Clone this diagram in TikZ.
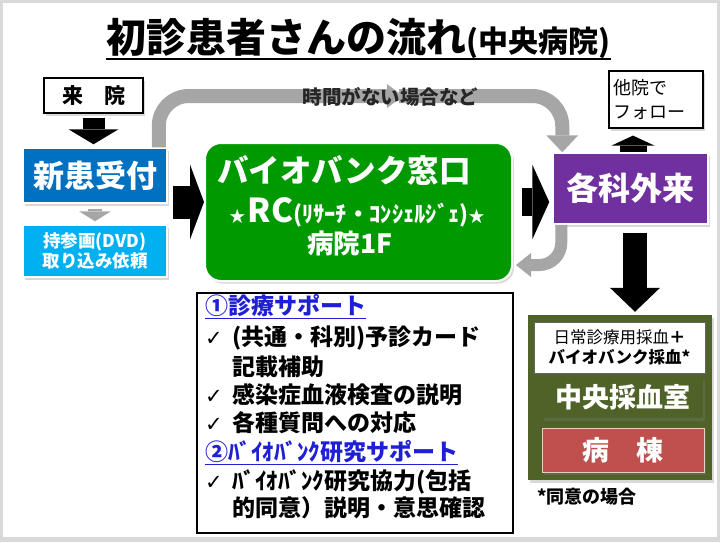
\documentclass[tikz,border=0pt]{standalone}
\usepackage{fontspec}
\setmainfont{Noto Sans CJK JP}
\newfontfamily\ckfont{DejaVu Sans}
\usepackage{xcolor}
\usetikzlibrary{arrows.meta,shadows}
\definecolor{framegray}{HTML}{D9D9D9}
\definecolor{arrowgray}{HTML}{A6A6A6}
\definecolor{shinkanblue}{HTML}{0070C0}
\definecolor{jisanblue}{HTML}{00B0F0}
\definecolor{bankgreen}{HTML}{009900}
\definecolor{gairaipurple}{HTML}{7030A0}
\definecolor{saiketsuolive}{HTML}{4F6228}
\definecolor{byotored}{HTML}{C0504D}
\definecolor{supportblue}{HTML}{1F1FD6}
\newcommand{\fsz}[1]{\fontsize{#1}{#1}\selectfont}
\newcommand{\chk}{\makebox[27pt][l]{\ckfont\mdseries\fsz{21}✓}}

\begin{document}
\begin{tikzpicture}[x=1pt,y=-1pt,
  lbl/.style={inner sep=0pt,align=center,font=\bfseries},
  shadowed/.style={drop shadow={opacity=0.3,shadow xshift=2pt,shadow yshift=-2.5pt}},
  frame/.style={lbl,draw=black,line width=1.2pt,fill=white},
  colorbox/.style={lbl,fill=#1,draw=white,line width=1.5pt,text=white,shadowed},
  blockarrow/.style={black,line width=#1},
  grayarrow/.style={arrowgray,line width=#1}]
\fill[framegray] (0,0) rectangle (720,542);
\fill[white] (3,3) rectangle (717,537);

\node[lbl,anchor=base] (title) at (358.5,52) {{\fsz{40}初診患者さんの流れ}{\fsz{30}(中央病院)}};
\draw[line width=1.5pt] ([yshift=-7pt]title.base west) -- ([yshift=-7pt]title.base east);

\node[frame,shadowed,minimum width=99pt,minimum height=35pt,font=\bfseries\fsz{21}] (raiin) at (93.5,95.5) {来　院};
\node[colorbox=shinkanblue,minimum width=144pt,minimum height=55pt,font=\bfseries\fsz{31}] (shinkan) at (95,175.5) {新患受付};
\node[colorbox=jisanblue,minimum width=144pt,minimum height=52pt,font=\bfseries\fontsize{17.5}{20}\selectfont] (jisan) at (95,251) {持参画(DVD)\\取り込み依頼};

\node[lbl,fill=bankgreen,draw=white,line width=2pt,rounded corners=16pt,shadowed,minimum width=307pt,minimum height=138pt] (madoguchi) at (358.5,212) {};
\node[lbl,text=white,font=\bfseries\fsz{31.5}] (bank) at (344,170.5) {バイオバンク窓口};
\node[lbl,text=white] (rc) at (357,212) {{\fsz{16}★} {\fsz{33}RC}{\fsz{22.5}(ﾘｻｰﾁ・ｺﾝｼｪﾙｼﾞｪ)}{\fsz{16}★}};
\node[lbl,text=white,font=\bfseries\fsz{26.5}] (floor) at (350,243) {病院1F};

\node[colorbox=gairaipurple,minimum width=155pt,minimum height=71pt,font=\bfseries\fsz{32}] (gairai) at (630.5,188.5) {各科外来};
\node[frame,shadowed,minimum width=94pt,minimum height=57pt,text width=86pt,align=left,font=\mdseries\fontsize{18}{24}\selectfont] (tain) at (656,99.5) {他院で\\フォロー};

\node[lbl,fill=saiketsuolive,shadowed,minimum width=184pt,minimum height=165pt] (olive) at (620,397.5) {};
\node[lbl,fill=white,draw=black!60,line width=0.8pt,minimum width=171pt,minimum height=51pt,font=\bfseries\fontsize{16.5}{20}\selectfont] (kind) at (619.5,347.5) {{\mdseries 日常診療用採血}＋\\バイオバンク採血*};
\node[lbl,fill=saiketsuolive,shadowed,minimum width=161pt,minimum height=41pt,text=white,font=\bfseries\fsz{27}] (chuo) at (622.5,397.5) {中央採血室};
\node[colorbox=byotored,draw=white!70!byotored,line width=1pt,minimum width=162pt,minimum height=44pt,font=\bfseries\fsz{27}] (byoto) at (623,450) {病　棟};
\node[lbl,anchor=west,font=\bfseries\fsz{18}] (doi) at (537,497) {*同意の場合};

\node[frame,minimum width=316pt,minimum height=240pt] (support) at (355,413) {};
\begin{scope}[every node/.style={lbl,anchor=west,font=\bfseries\fsz{23}}]
\node[text=supportblue] (sup1) at (205,307) {\underline{①診療サポート}};
\node (sup2) at (205,338) {\chk{}(共通・科別)予診カード};
\node (sup3) at (232,367) {記載補助};
\node (sup4) at (205,395) {\chk{}感染症血液検査の説明};
\node (sup5) at (205,423) {\chk{}各種質問への対応};
\node[text=supportblue] (sup6) at (205,453) {\underline{②ﾊﾞｲｵﾊﾞﾝｸ研究サポート}};
\node (sup7) at (205,482) {\chk{}ﾊﾞｲｵﾊﾞﾝｸ研究協力(包括};
\node (sup8) at (232,508) {的同意）説明・意思確認};
\end{scope}

\coordinate (midtip) at (403,96);
\coordinate (midtail) at (399,96);
\draw[grayarrow=14pt,rounded corners=30pt,-{Triangle[width=24pt,length=16pt,line width=0pt]}] ([xshift=-9pt]shinkan.north east) |- (midtip);
\draw[grayarrow=14pt,rounded corners=30pt,-{Triangle[width=32pt,length=17pt,line width=0pt]}] (midtail) -| ([xshift=10pt]gairai.north west);
\node[lbl,text=black!85,font=\bfseries\fsz{19.5}] (hurry) at (390.5,97) {時間がない場合など};
\draw[grayarrow=12pt,rounded corners=22pt,-{Triangle[width=24pt,length=15pt,line width=0pt]}] ([xshift=9pt]gairai.south west) |- ([xshift=3pt,yshift=-53pt]madoguchi.east);

\coordinate (flowrow) at (0,202);
\coordinate (upcol) at ([xshift=2.5pt]gairai.north);
\coordinate (downcol) at ([xshift=4.5pt]gairai.south);
\draw[blockarrow=22pt,-{Triangle[width=50pt,length=15pt,line width=0pt]},shorten <=4pt,shorten >=3pt] (raiin.south) -- (raiin.south |- shinkan.north);
\draw[grayarrow=14pt,-{Triangle[width=32pt,length=10pt,line width=0pt]},shorten <=5pt,shorten >=3pt] (shinkan.south) -- (jisan.north);
\draw[blockarrow=33pt,-{Triangle[width=75pt,length=14pt,line width=0pt]},shorten <=5pt] (shinkan.east |- flowrow) -- (madoguchi.west |- flowrow);
\draw[blockarrow=28pt,-{Triangle[width=75pt,length=17pt,line width=0pt]},shorten <=9pt,shorten >=3pt] (madoguchi.east |- flowrow) -- (gairai.west |- flowrow);
\draw[blockarrow=27pt,-{Triangle[width=43pt,length=10pt,line width=0pt]},shorten >=7pt] (upcol) -- (upcol |- tain.south);
\draw[blockarrow=24pt,-{Triangle[width=50pt,length=24pt,line width=0pt]},shorten <=8pt,shorten >=3pt] (downcol) -- (downcol |- olive.north);
\end{tikzpicture}
\end{document}
